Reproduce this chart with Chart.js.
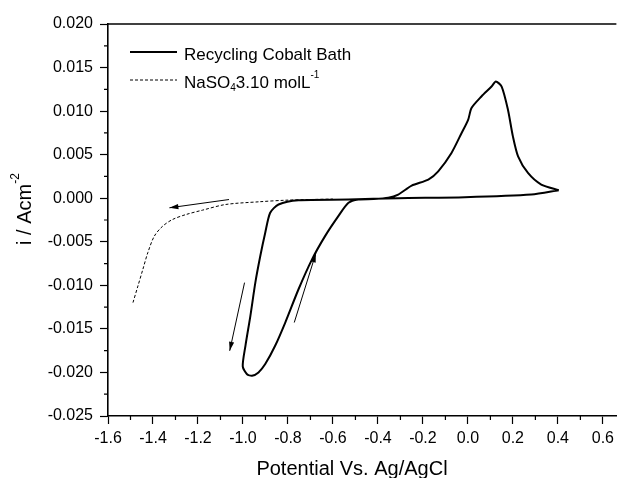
<!DOCTYPE html>
<html>
<head>
<meta charset="utf-8">
<script src="https://cdn.jsdelivr.net/npm/chart.js@4/dist/chart.umd.min.js"></script>
<style>
  body { margin: 0; background: #fff; }
  #wrap { width: 619px; height: 478px; }
</style>
</head>
<body>
<div id="wrap"><canvas id="cv" width="619" height="478"></canvas></div>
<script>
// cyclic voltammogram, recycling cobalt bath (scan starts at the right vertex)
const cvPotential = [0.404, 0.282, -0.014, -0.31, -0.531, -0.753, -0.842, -0.879, -0.901, -0.923,
  -0.945, -0.967, -0.989, -1.001, -0.982, -0.960, -0.931, -0.901, -0.857, -0.812,
  -0.753, -0.693, -0.635, -0.576, -0.531, -0.487, -0.42, -0.354, -0.310, -0.250,
  -0.176, -0.132, -0.073, -0.028, 0.001, 0.016, 0.060, 0.105, 0.124, 0.150,
  0.178, 0.200, 0.223, 0.267, 0.326, 0.404];
const cvCurrent = [0.00092, 0.00042, 0.00011, 0.0, -0.00015, -0.00023, -0.00072, -0.00167, -0.00396, -0.00664,
  -0.00969, -0.0135, -0.01694, -0.0193, -0.0202, -0.02038, -0.0200, -0.01904, -0.01694, -0.01427,
  -0.01045, -0.00702, -0.00435, -0.00206, -0.00053, -0.00015, -0.0001, 0.00005, 0.00042, 0.00145,
  0.00214, 0.00309, 0.0052, 0.00749, 0.0090, 0.01035, 0.01168, 0.01282, 0.0134, 0.01282,
  0.01016, 0.0071, 0.00481, 0.0029, 0.00157, 0.00092];

// blank electrolyte
const naPotential = [-1.489, -1.467, -1.445, -1.423, -1.394, -1.357, -1.313, -1.253, -1.180, -1.077,
  -0.929, -0.811, -0.70, -0.60];
const naCurrent = [-0.01198, -0.01008, -0.00816, -0.00625, -0.00435, -0.00321, -0.00244, -0.00187, -0.00137, -0.00072,
  -0.00041, -0.00023, -0.00015, -0.0001];

// scan direction arrows
const arrowFromX = [-1.062, -0.993, -0.772];
const arrowFromY = [-0.00015, -0.00969, -0.01427];
const arrowToX = [-1.327, -1.059, -0.676];
const arrowToY = [-0.0011, -0.01752, -0.00633];

const seriesLabels = [
  [["Recycling Cobalt Bath", ""]],
  [["NaSO", ""], ["4", "sub"], ["3.10 molL", ""], ["-1", "sup"]]
];
const xTitle = [["Potential Vs. Ag/AgCl", ""]];
const yTitle = [["i / Acm", ""], ["-2", "sup"]];

const FONT = "'Liberation Sans', Arial, sans-serif";

function pts(xs, ys) {
  return xs.map((x, i) => ({ x: x, y: ys[i] }));
}

function drawRich(ctx, parts, x, y, size) {
  let cx = x;
  parts.forEach(([txt, kind]) => {
    const s = kind ? Math.round(size * 0.6) : size;
    const dy = kind === "sup" ? -size * 0.45 : kind === "sub" ? size * 0.3 : 0;
    ctx.font = s + "px " + FONT;
    ctx.fillText(txt, cx, y + dy);
    cx += ctx.measureText(txt).width;
  });
  return cx - x;
}

function richWidth(ctx, parts, size) {
  let w = 0;
  parts.forEach(([txt, kind]) => {
    const s = kind ? Math.round(size * 0.6) : size;
    ctx.font = s + "px " + FONT;
    w += ctx.measureText(txt).width;
  });
  return w;
}

const datasets = [
  {
    label: "cv",
    data: pts(cvPotential, cvCurrent),
    borderColor: "#000",
    borderWidth: 2,
    tension: 0.25,
  },
  {
    label: "na",
    data: pts(naPotential, naCurrent),
    borderColor: "#000",
    borderWidth: 1,
    borderDash: [3, 2],
    tension: 0.3,
  },
];
arrowFromX.forEach((x, i) => {
  datasets.push({
    label: "arrow" + i,
    data: [{ x: x, y: arrowFromY[i] }, { x: arrowToX[i], y: arrowToY[i] }],
    borderColor: "#000",
    borderWidth: 1,
    isArrow: true,
  });
});

const extras = {
  id: "extras",
  afterDatasetsDraw(chart) {
    const ctx = chart.ctx;
    ctx.save();
    ctx.fillStyle = "#000";
    chart.data.datasets.forEach((ds, i) => {
      if (!ds.isArrow) return;
      const el = chart.getDatasetMeta(i).data;
      const a = el[0], b = el[1];
      const ang = Math.atan2(b.y - a.y, b.x - a.x);
      const len = 9, half = 2.6;
      ctx.beginPath();
      ctx.moveTo(b.x, b.y);
      ctx.lineTo(b.x - len * Math.cos(ang) + half * Math.sin(ang), b.y - len * Math.sin(ang) - half * Math.cos(ang));
      ctx.lineTo(b.x - len * Math.cos(ang) - half * Math.sin(ang), b.y - len * Math.sin(ang) + half * Math.cos(ang));
      ctx.closePath();
      ctx.fill();
    });
    ctx.restore();
  },
  afterDraw(chart) {
    const ctx = chart.ctx;
    const area = chart.chartArea;
    const xs = chart.scales.x, ys = chart.scales.y;
    ctx.save();
    ctx.strokeStyle = "#000";
    ctx.lineWidth = 1.6;
    // top frame
    ctx.beginPath();
    ctx.moveTo(area.left, area.top);
    ctx.lineTo(area.right, area.top);
    ctx.stroke();
    // minor ticks
    ctx.lineWidth = 1.2;
    ctx.beginPath();
    for (let k = -16; k <= 6; k++) {
      if (k % 2 === 0) continue;
      const px = xs.getPixelForValue(k / 10);
      ctx.moveTo(px, area.bottom);
      ctx.lineTo(px, area.bottom + 4);
    }
    for (let k = -10; k <= 8; k++) {
      if (k % 2 === 0) continue;
      const py = ys.getPixelForValue(k * 0.0025);
      ctx.moveTo(area.left, py);
      ctx.lineTo(area.left - 4, py);
    }
    ctx.stroke();

    // legend
    ctx.fillStyle = "#000";
    ctx.textBaseline = "middle";
    ctx.textAlign = "left";
    const rows = [52, 80];
    [0, 1].forEach((i) => {
      const ds = chart.data.datasets[i];
      ctx.lineWidth = ds.borderWidth;
      ctx.setLineDash(ds.borderDash || []);
      ctx.beginPath();
      ctx.moveTo(130, rows[i]);
      ctx.lineTo(177, rows[i]);
      ctx.stroke();
      ctx.setLineDash([]);
      drawRich(ctx, seriesLabels[i], 184, rows[i] + 3, 17);
    });

    // x axis title
    ctx.textBaseline = "alphabetic";
    const wx = richWidth(ctx, xTitle, 20);
    drawRich(ctx, xTitle, 352 - wx / 2, 475, 20);

    // y axis title
    ctx.textBaseline = "middle";
    ctx.translate(25, 209);
    ctx.rotate(-Math.PI / 2);
    const w = richWidth(ctx, yTitle, 20);
    drawRich(ctx, yTitle, -w / 2, 0, 20);
    ctx.restore();
  },
};

new Chart(document.getElementById("cv"), {
  type: "scatter",
  data: { datasets: datasets },
  options: {
    responsive: false,
    animation: false,
    showLine: true,
    elements: { point: { radius: 0, hoverRadius: 0 } },
    layout: { padding: { top: 24, right: 0, left: 0, bottom: 0 } },
    plugins: { legend: { display: false }, tooltip: { enabled: false } },
    scales: {
      x: {
        type: "linear",
        min: -1.6,
        max: 0.66,
        afterFit: (s) => { s.height = 62; },
        border: { color: "#000", width: 1.6 },
        grid: { drawOnChartArea: false, tickLength: 8, tickColor: "#000", tickWidth: 1.2 },
        ticks: {
          stepSize: 0.2,
          includeBounds: false,
          maxRotation: 0,
          padding: 5,
          color: "#000",
          font: { family: FONT, size: 16 },
          callback: (v) => (Math.abs(v) < 1e-9 ? 0 : v).toFixed(1),
        },
      },
      y: {
        type: "linear",
        min: -0.025,
        max: 0.02,
        afterFit: (s) => { s.width = 108; },
        border: { color: "#000", width: 1.6 },
        grid: { drawOnChartArea: false, tickLength: 8, tickColor: "#000", tickWidth: 1.2 },
        ticks: {
          stepSize: 0.005,
          includeBounds: false,
          padding: 7,
          color: "#000",
          font: { family: FONT, size: 16 },
          callback: (v) => (Math.abs(v) < 1e-12 ? 0 : v).toFixed(3),
        },
      },
    },
  },
  plugins: [extras],
});
</script>
</body>
</html>
